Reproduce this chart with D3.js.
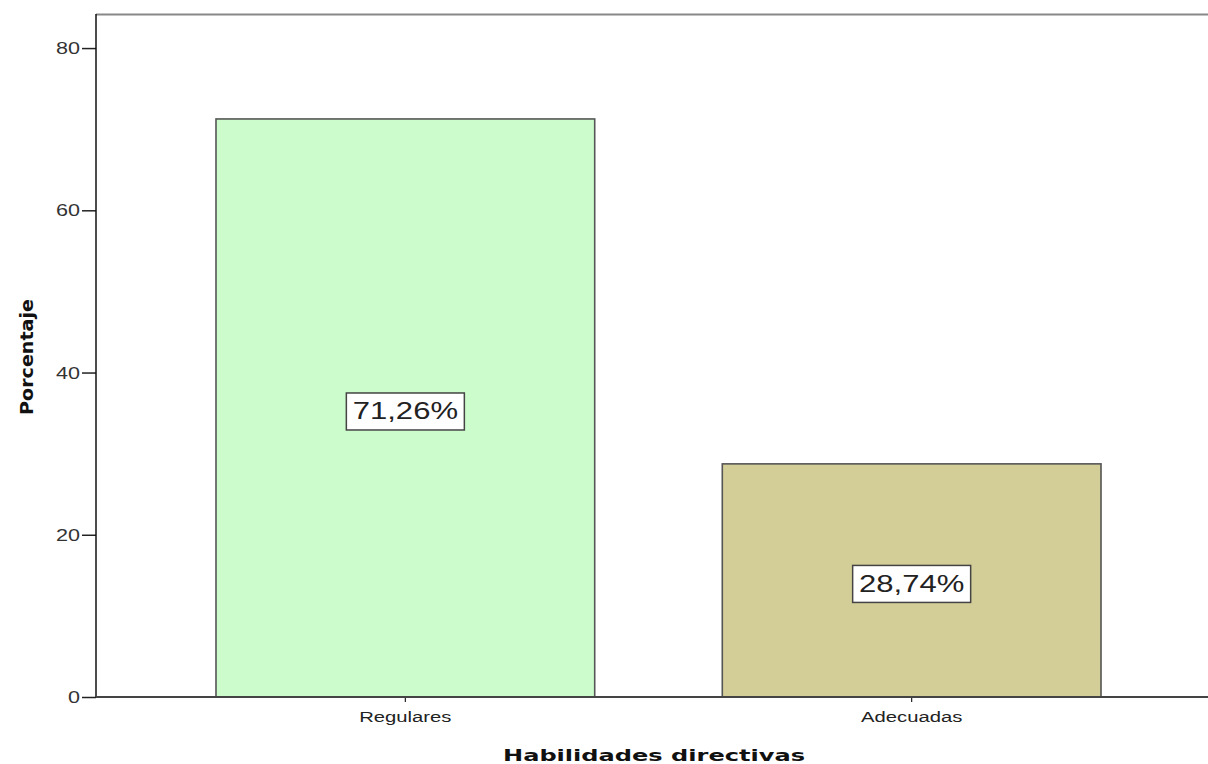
<!DOCTYPE html>
<html>
<head>
<meta charset="utf-8">
<script src="https://cdn.jsdelivr.net/npm/d3@7"></script>
<style>
    body { margin: 0; background: #fff; }
    svg { display: block; }
</style>
</head>
<body>
<script>
// datos del grafico
const categories = ['Regulares', 'Adecuadas'];
const values = [71.26, 28.74];
const labels = ['71,26%', '28,74%'];
const colors = ['#ccfccb', '#d3ce97'];
const yTicks = [0, 20, 40, 60, 80];

const width = 1208, height = 764;
const plotLeft = 96, plotTop = 14, plotBottom = 697;
// la imagen original esta estirada en horizontal
const stretch = 1.35;

const svg = d3.select('body')
    .append('svg')
    .attr('width', width)
    .attr('height', height);

const y = d3.scaleLinear()
    .domain([0, 84.2])
    .range([plotBottom, plotTop]);

const x = d3.scaleBand()
    .domain(categories)
    .range([plotLeft, 1221])
    .paddingInner(0.252)
    .paddingOuter(0.237);

// marco superior
svg.append('line')
    .attr('x1', plotLeft).attr('x2', width)
    .attr('y1', plotTop + 0.5).attr('y2', plotTop + 0.5)
    .attr('stroke', '#888').attr('stroke-width', 2);

// barras
svg.selectAll('rect.bar')
    .data(values)
    .enter()
    .append('rect')
    .attr('class', 'bar')
    .attr('x', (d, i) => x(categories[i]))
    .attr('y', d => y(d))
    .attr('width', x.bandwidth())
    .attr('height', d => y(0) - y(d))
    .attr('fill', (d, i) => colors[i])
    .attr('stroke', '#555')
    .attr('stroke-width', 1.6);

// eje y
const yAxis = svg.append('g')
    .attr('transform', `translate(${plotLeft},0)`)
    .call(d3.axisLeft(y).tickValues(yTicks).tickSize(14));
yAxis.select('.domain').remove();
yAxis.selectAll('.tick line').attr('stroke', '#222').attr('stroke-width', 1.5);
yAxis.selectAll('.tick text')
    .attr('x', null)
    .attr('dy', '0.35em')
    .attr('transform', `translate(-16,0) scale(${stretch},1)`)
    .attr('fill', '#333')
    .style('font-family', 'Liberation Sans, Arial, sans-serif')
    .style('font-size', '16px');
svg.append('line')
    .attr('x1', plotLeft).attr('x2', plotLeft)
    .attr('y1', plotTop).attr('y2', plotBottom)
    .attr('stroke', '#111').attr('stroke-width', 1.5);

// eje x
const xAxis = svg.append('g')
    .attr('transform', `translate(0,${plotBottom})`)
    .call(d3.axisBottom(x).tickSize(5));
xAxis.select('.domain').remove();
xAxis.selectAll('.tick line').attr('stroke', '#222').attr('stroke-width', 1.2);
xAxis.selectAll('.tick text')
    .attr('y', null)
    .attr('dy', null)
    .attr('transform', `translate(0,25) scale(${stretch},1)`)
    .attr('fill', '#222')
    .style('font-family', 'Liberation Sans, Arial, sans-serif')
    .style('font-size', '15px');
svg.append('line')
    .attr('x1', plotLeft).attr('x2', width)
    .attr('y1', plotBottom).attr('y2', plotBottom)
    .attr('stroke', '#444').attr('stroke-width', 1.8);

// etiquetas de porcentaje
const lab = svg.selectAll('g.lab')
    .data(values)
    .enter()
    .append('g')
    .attr('class', 'lab')
    .attr('transform', (d, i) => `translate(${x(categories[i]) + x.bandwidth() / 2},${(y(d) + y(0)) / 2 + 3})`);

lab.append('rect')
    .attr('x', -59).attr('y', -18)
    .attr('width', 118).attr('height', 37)
    .attr('fill', '#fff')
    .attr('stroke', '#444')
    .attr('stroke-width', 1.5);

lab.append('text')
    .attr('text-anchor', 'middle')
    .attr('dy', '0.36em')
    .attr('transform', `scale(${stretch},1)`)
    .attr('fill', '#222')
    .style('font-family', 'Liberation Sans, Arial, sans-serif')
    .style('font-size', '23px')
    .text((d, i) => labels[i]);

// titulos de ejes
svg.append('text')
    .attr('x', 654).attr('y', 761)
    .attr('text-anchor', 'middle')
    .attr('textLength', 302)
    .attr('lengthAdjust', 'spacingAndGlyphs')
    .attr('fill', '#111')
    .style('font-family', 'DejaVu Sans, Verdana, sans-serif')
    .style('font-weight', 'bold')
    .style('font-size', '15.5px')
    .text('Habilidades directivas');

svg.append('text')
    .attr('transform', 'translate(33,357) rotate(-90)')
    .attr('text-anchor', 'middle')
    .attr('textLength', 116)
    .attr('lengthAdjust', 'spacingAndGlyphs')
    .attr('fill', '#111')
    .style('font-family', 'DejaVu Sans, Verdana, sans-serif')
    .style('font-weight', 'bold')
    .style('font-size', '18px')
    .text('Porcentaje');
</script>
</body>
</html>
